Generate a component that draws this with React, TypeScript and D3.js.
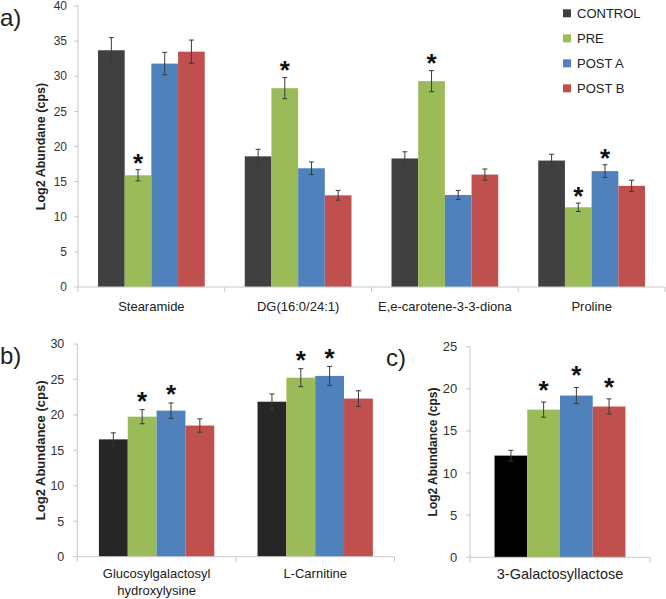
import React from "react";
import * as d3 from "d3";

const seriesNames = ["CONTROL", "PRE", "POST A", "POST B"];
const seriesColors = ["#404040", "#9BBB59", "#4F81BD", "#C0504D"];

// Panel a
const aCategories = [["Stearamide"], ["DG(16:0/24:1)"], ["E,e-carotene-3-3-diona"], ["Proline"]];
const aControl = [33.7, 18.6, 18.3, 18.0];
const aPre = [15.9, 28.3, 29.3, 11.35];
const aPostA = [31.8, 16.9, 13.1, 16.5];
const aPostB = [33.5, 13.05, 16.0, 14.4];
const aControlErr = [1.8, 1.0, 0.95, 0.9];
const aPreErr = [0.8, 1.5, 1.5, 0.6];
const aPostAErr = [1.6, 0.9, 0.65, 0.9];
const aPostBErr = [1.65, 0.7, 0.8, 0.8];
const aControlSig = [0, 0, 0, 0];
const aPreSig = [1, 1, 1, 1];
const aPostASig = [0, 0, 0, 1];
const aPostBSig = [0, 0, 0, 0];
const aTicks = [0, 5, 10, 15, 20, 25, 30, 35, 40];

// Panel b
const bCategories = [["Glucosylgalactosyl", "hydroxylysine"], ["L-Carnitine"]];
const bControl = [16.55, 21.86];
const bPre = [19.75, 25.25];
const bPostA = [20.6, 25.5];
const bPostB = [18.5, 22.3];
const bControlErr = [0.92, 1.1];
const bPreErr = [1.0, 1.27];
const bPostAErr = [1.08, 1.34];
const bPostBErr = [0.94, 1.1];
const bControlSig = [0, 0];
const bPreSig = [1, 1];
const bPostASig = [1, 1];
const bPostBSig = [0, 0];
const bTicks = [0, 5, 10, 15, 20, 25, 30];

// Panel c
const cCategories = [["3-Galactosyllactose"]];
const cControl = [12.07];
const cPre = [17.53];
const cPostA = [19.2];
const cPostB = [17.9];
const cControlErr = [0.63];
const cPreErr = [0.9];
const cPostAErr = [0.95];
const cPostBErr = [0.91];
const cControlSig = [0];
const cPreSig = [1];
const cPostASig = [1];
const cPostBSig = [1];
const cTicks = [0, 5, 10, 15, 20, 25];

const FONT = "'Liberation Sans', Arial, sans-serif";
const AXIS = "#c8c8c8";
const STAR = 26;

type PanelProps = {
  x0: number; x1: number; yTop: number; yBottom: number; max: number;
  ticks: number[]; categories: string[][];
  values: number[][]; errs: number[][]; sigs: number[][];
  colors: string[];
  tickFont: number; tickGap: number;
  title: string; titleX: number; titleFont: number;
  catFont: number; catBaseline: number; catLine: number;
  starOffset: number;
};

function Panel(p: PanelProps) {
  const y = d3.scaleLinear().domain([0, p.max]).range([p.yBottom, p.yTop]);
  const x = d3.scaleBand<number>().domain(p.categories.map((_, i) => i)).range([p.x0, p.x1]).paddingInner(0).paddingOuter(0);
  const bw = x.bandwidth() / (4 + 1.5);
  const sub = d3.scaleBand<number>().domain([0, 1, 2, 3]).range([0.75 * bw, 0.75 * bw + 4 * bw]).padding(0);
  const boundaries = p.categories.map((_, i) => x(i) as number).concat([p.x1]);
  return (
    <g>
      <line x1={p.x0} x2={p.x0} y1={p.yTop} y2={p.yBottom} stroke={AXIS} strokeWidth={1} />
      {p.ticks.map((t) => (
        <g key={t}>
          <line x1={p.x0 - 4} x2={p.x0} y1={y(t)} y2={y(t)} stroke={AXIS} />
          <text x={p.x0 - p.tickGap} y={y(t)} dy="0.35em" textAnchor="end" fontSize={p.tickFont} fill="#333" fontFamily={FONT}>{t}</text>
        </g>
      ))}
      <text transform={`translate(${p.titleX},${(p.yTop + p.yBottom) / 2}) rotate(-90)`} textAnchor="middle" dy="0.35em" fontSize={p.titleFont} fontWeight="bold" fill="#222" fontFamily={FONT}>{p.title}</text>
      {p.categories.map((_, ci) => (
        <g key={ci}>
          {p.values.map((vals, si) => {
            const bx = (x(ci) as number) + (sub(si) as number);
            const v = vals[ci];
            const e = p.errs[si][ci];
            const cx = bx + bw / 2;
            return (
              <g key={si}>
                <rect x={bx} y={y(v)} width={bw} height={p.yBottom - y(v)} fill={p.colors[si]} />
                <line x1={cx} x2={cx} y1={y(v + e)} y2={y(v - e)} stroke="#3a3a3a" strokeWidth={1} />
                <line x1={cx - 2.5} x2={cx + 2.5} y1={y(v + e)} y2={y(v + e)} stroke="#3a3a3a" strokeWidth={1} />
                <line x1={cx - 2.5} x2={cx + 2.5} y1={y(v - e)} y2={y(v - e)} stroke="#3a3a3a" strokeWidth={1} />
                {p.sigs[si][ci] ? (
                  <text x={cx} y={y(v + e) - p.starOffset + STAR * 0.57} textAnchor="middle" fontSize={STAR} fontWeight="bold" fill="#111" fontFamily={FONT}>*</text>
                ) : null}
              </g>
            );
          })}
        </g>
      ))}
      <line x1={p.x0} x2={p.x1} y1={p.yBottom} y2={p.yBottom} stroke={AXIS} />
      {boundaries.map((b, i) => (
        <line key={i} x1={b} x2={b} y1={p.yBottom} y2={p.yBottom + 5} stroke={AXIS} />
      ))}
      {p.categories.map((lines, ci) => (
        <text key={ci} x={(x(ci) as number) + x.bandwidth() / 2} y={p.catBaseline} textAnchor="middle" fontSize={p.catFont} fill="#222" fontFamily={FONT}>
          {lines.map((l, li) => (
            <tspan key={li} x={(x(ci) as number) + x.bandwidth() / 2} dy={li === 0 ? 0 : p.catLine}>{l}</tspan>
          ))}
        </text>
      ))}
    </g>
  );
}

export default function App() {
  return (
    <svg width={666} height={599} style={{ position: "absolute", left: 0, top: 0, background: "#fff" }} fontFamily={FONT}>
      <rect width={666} height={599} fill="#fff" />
      <text x={0} y={26} fontSize={24} fill="#222" fontFamily={FONT}>a)</text>
      <text x={0} y={364} fontSize={24} fill="#222" fontFamily={FONT}>b)</text>
      <text x={386} y={366} fontSize={24} fill="#222" fontFamily={FONT}>c)</text>

      <Panel x0={78} x1={665} yTop={6} yBottom={287} max={40} ticks={aTicks} categories={aCategories}
        values={[aControl, aPre, aPostA, aPostB]} errs={[aControlErr, aPreErr, aPostAErr, aPostBErr]}
        sigs={[aControlSig, aPreSig, aPostASig, aPostBSig]} colors={seriesColors}
        tickFont={12} tickGap={11} title="Log2 Abundane (cps)" titleX={41} titleFont={12.5}
        catFont={13} catBaseline={311} catLine={16} starOffset={13} />

      <Panel x0={77.3} x1={394.5} yTop={344} yBottom={556.7} max={30} ticks={bTicks} categories={bCategories}
        values={[bControl, bPre, bPostA, bPostB]} errs={[bControlErr, bPreErr, bPostAErr, bPostBErr]}
        sigs={[bControlSig, bPreSig, bPostASig, bPostBSig]} colors={["#262626", seriesColors[1], seriesColors[2], seriesColors[3]]}
        tickFont={12.5} tickGap={13} title="Log2 Abundance (cps)" titleX={40} titleFont={13}
        catFont={13} catBaseline={578} catLine={17} starOffset={14.5} />

      <Panel x0={470} x1={650} yTop={346.7} yBottom={557.3} max={25} ticks={cTicks} categories={cCategories}
        values={[cControl, cPre, cPostA, cPostB]} errs={[cControlErr, cPreErr, cPostAErr, cPostBErr]}
        sigs={[cControlSig, cPreSig, cPostASig, cPostBSig]} colors={["#000000", seriesColors[1], seriesColors[2], seriesColors[3]]}
        tickFont={13} tickGap={12.7} title="Log2 Abundance (cps)" titleX={433} titleFont={12}
        catFont={14.5} catBaseline={579} catLine={17} starOffset={18} />

      {seriesNames.map((n, i) => (
        <g key={n}>
          <rect x={563} y={13.3 + i * 25 - 4} width={8} height={8} fill={seriesColors[i]} />
          <text x={577} y={13.3 + i * 25} dy="0.35em" fontSize={13} fill="#222" fontFamily={FONT}>{n}</text>
        </g>
      ))}
    </svg>
  );
}
